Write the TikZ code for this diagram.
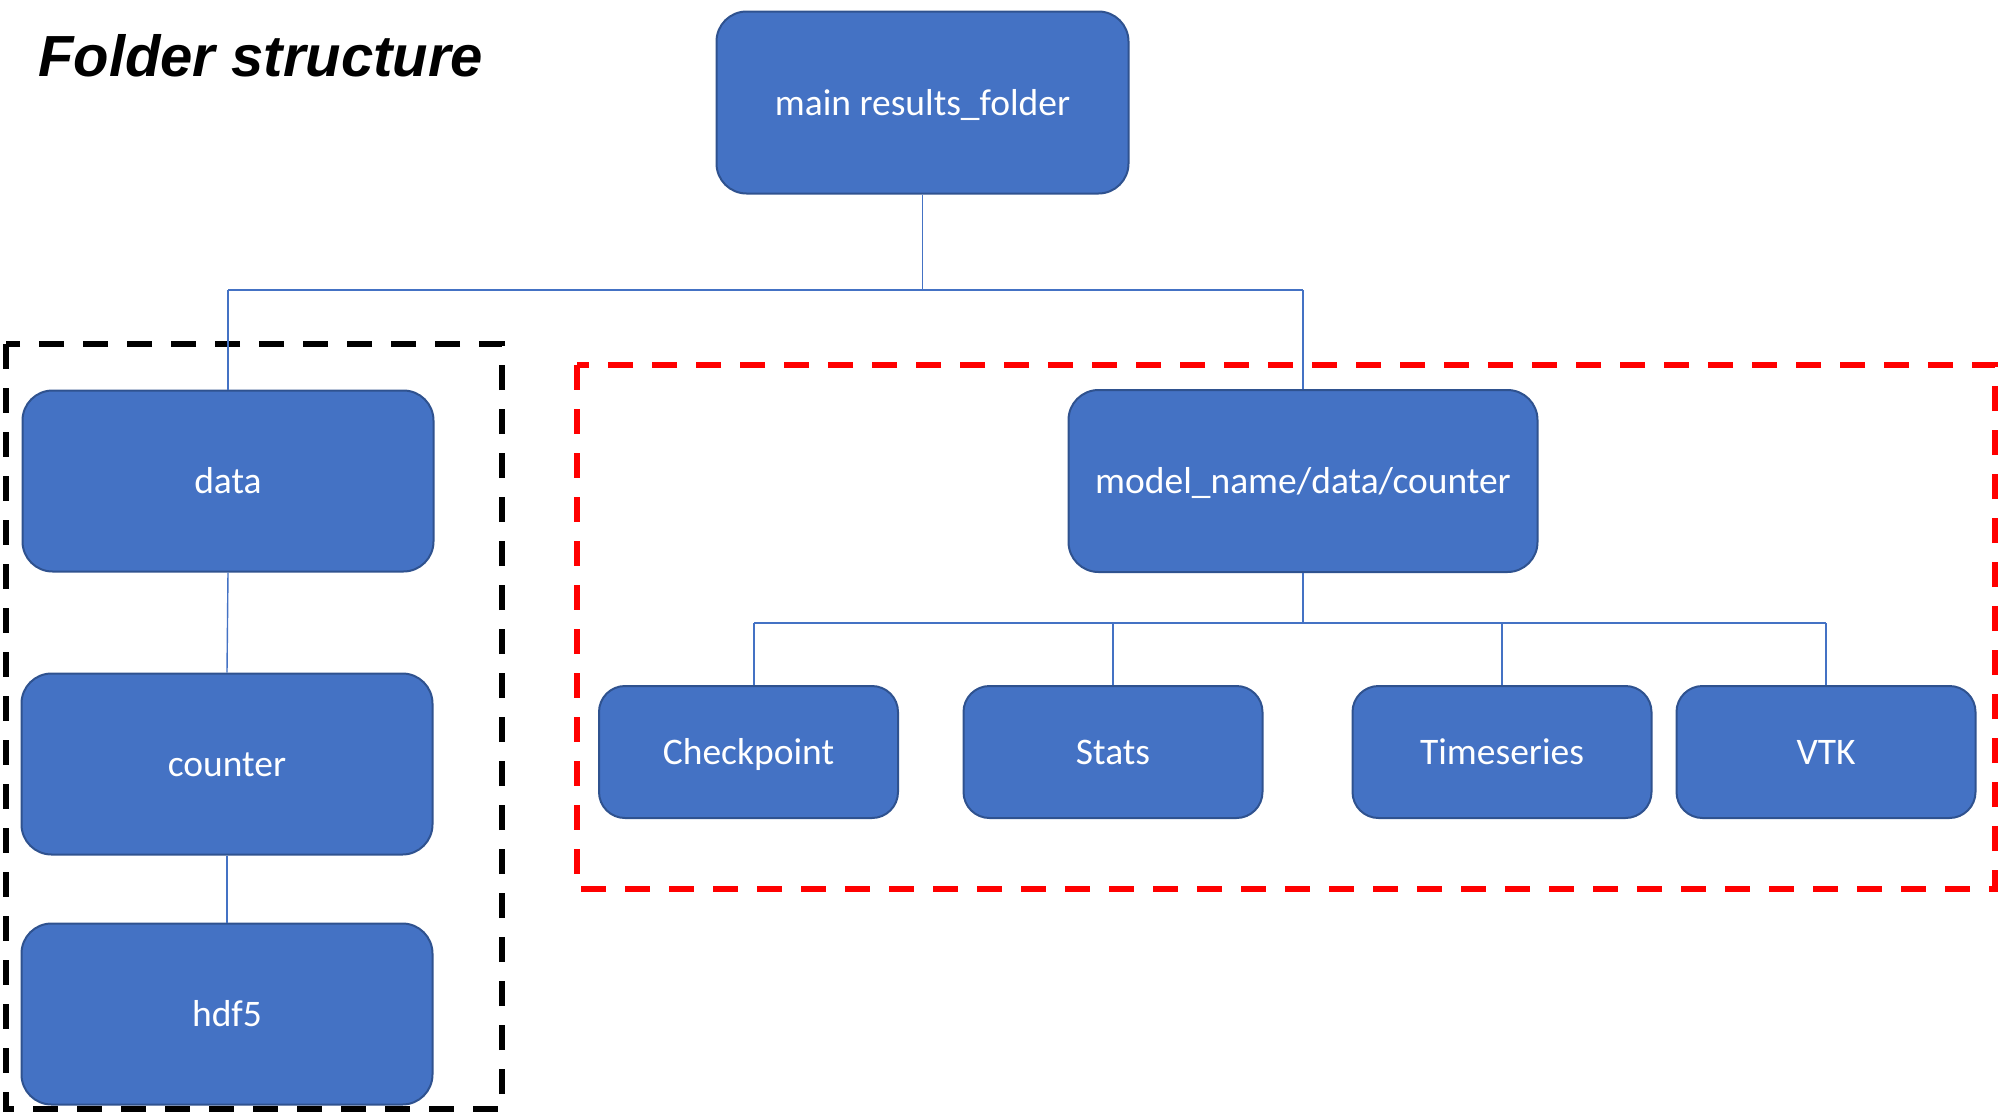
\documentclass[tikz,border=0pt]{standalone}
\usepackage{fontspec}
\setmainfont{Carlito}
\newfontfamily\titlefont{Liberation Sans}
\definecolor{boxblue}{HTML}{4472C4}
\definecolor{boxedge}{HTML}{2F528F}
\definecolor{linkblue}{HTML}{4472C4}
\definecolor{dashred}{HTML}{FF0000}
\begin{document}
\begin{tikzpicture}[x=1pt,y=-1pt,
  folder/.style={draw=boxedge, line width=2pt, fill=boxblue, text=white,
     rounded corners=30pt, inner sep=0pt, align=center,
     text height=25pt, text depth=0pt,
     font=\fontsize{37.5}{45}\selectfont},
  bigbox/.style={folder, minimum width=411pt, minimum height=181pt},
  smallbox/.style={folder, rounded corners=26pt, minimum width=299pt, minimum height=132pt},
  link/.style={draw=linkblue, line width=1.4pt},
  groupbox/.style={line width=6pt, dash pattern=on 25pt off 19pt}
]
\useasboundingbox (0,0) rectangle (1999,1114);

% group frames
\draw[groupbox, draw=black] (6,344) rectangle (502,1109);
\draw[groupbox, draw=dashred] (577,365) rectangle (1995,889);

% title
\node[anchor=base west, inner sep=0pt, font=\titlefont\bfseries\itshape\fontsize{58}{66}\selectfont] (title) at (38,76) {Folder structure};

% nodes
\node[folder, minimum width=412pt, minimum height=182pt] (main) at (922.5,102.5) {main results\_folder};
\node[bigbox] (data) at (228,481) {data};
\node[bigbox] (counter) at (227,764) {counter};
\node[bigbox] (hdf) at (227,1014) {hdf5};
\node[folder, minimum width=469pt, minimum height=182pt] (model) at (1303,481) {model\_name/data/counter};
\node[smallbox] (chk) at (748.5,752) {Checkpoint};
\node[smallbox] (stats) at (1113,752) {Stats};
\node[smallbox] (ts) at (1502,752) {Timeseries};
\node[smallbox] (vtk) at (1826,752) {VTK};

% bus coordinates
\coordinate (topbus) at (922.5,290);
\coordinate (busL) at (228,290);
\coordinate (busR) at (1303,290);
\coordinate (midbus) at (1303,623);
\coordinate (b1) at (754,623);
\coordinate (b2) at (1113,623);
\coordinate (b3) at (1502,623);
\coordinate (b4) at (1826,623);

% connectors
\draw[link] (main.south) -- (topbus);
\draw[link] (busL) -- (busR);
\draw[link] (busL) -- (data.north);
\draw[link] (busR) -- (model.north);
\draw[link] (data.south) -- (counter.north);
\draw[link] (counter.south) -- (hdf.north);
\draw[link] (model.south) -- (midbus);
\draw[link] (b1) -- (b4);
\draw[link] (b1) -- (b1 |- chk.north);
\draw[link] (b2) -- (stats.north);
\draw[link] (b3) -- (ts.north);
\draw[link] (b4) -- (vtk.north);
\end{tikzpicture}
\end{document}
